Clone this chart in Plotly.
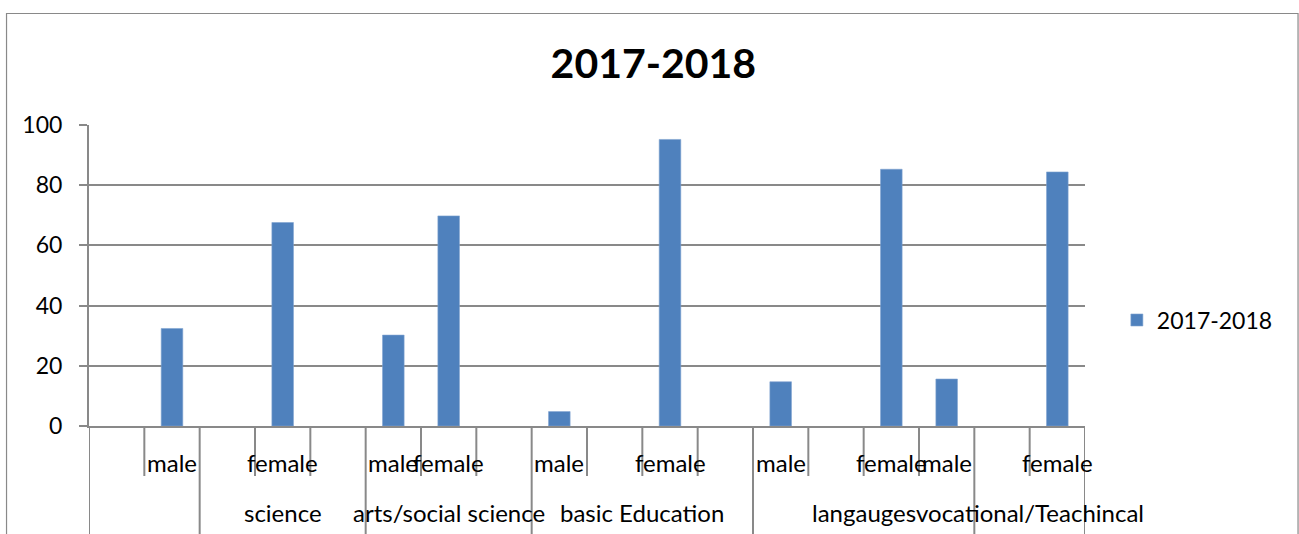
import plotly.graph_objects as go

# ---- data ----
outer_labels = ["", "",
                "science", "science", "science",
                "arts/social science", "arts/social science", "arts/social science",
                "basic Education", "basic Education", "basic Education", "basic Education",
                "langauges", "langauges", "langauges", "langauges",
                "vocational/Teachincal", "vocational/Teachincal"]
inner_labels = ["", "male",
                "", "female", "",
                "male", "female", "",
                "male", "", "female", "",
                "male", "", "female", "male",
                "", "female"]
values_2017_2018 = [None, 32.4,
                    None, 67.6, None,
                    30.2, 69.8, None,
                    4.8, None, 95.2, None,
                    14.7, None, 85.3, 15.6,
                    None, 84.4]
series_name = "2017-2018"
y_ticks = [0, 20, 40, 60, 80, 100]

FONT = "Lato"
GRAY = "#898989"
BLUE = "#4F81BD"

n = len(inner_labels)
idx = list(range(n))

fig = go.Figure()
fig.add_trace(go.Bar(
    x=idx, y=values_2017_2018, name=series_name,
    marker=dict(color=BLUE, line=dict(color="#7FA3D0", width=0.6)),
    width=0.39, showlegend=True,
))

shapes = []
# tick marks at each category boundary; long dividers at group boundaries
for b in range(n + 1):
    is_group = b == 0 or b == n or outer_labels[b - 1] != outer_labels[b]
    shapes.append(dict(
        type="line", xref="x", yref="paper", ysizemode="pixel", yanchor=0,
        x0=b - 0.5, x1=b - 0.5, y0=0, y1=-140 if is_group else -50,
        line=dict(color=GRAY, width=2), layer="above",
    ))
# outer chart border
shapes.append(dict(type="rect", xref="paper", yref="paper",
                   x0=-0.0828, x1=1.2139, y0=-0.6, y1=1.3704,
                   line=dict(color=GRAY, width=1.2), layer="below"))

annotations = []
for i, lab in enumerate(inner_labels):
    if lab.strip():
        annotations.append(dict(x=i, y=0, xref="x", yref="paper", text=lab,
                                showarrow=False, yanchor="middle", yshift=-36,
                                font=dict(family=FONT, size=24, color="black")))
# outer group labels
groups = []
for i, g in enumerate(outer_labels):
    if groups and groups[-1][0] == g:
        groups[-1][2] = i
    else:
        groups.append([g, i, i])
for g, a, b in groups:
    if g.strip():
        annotations.append(dict(x=(a + b) / 2, y=0, xref="x", yref="paper", text=g,
                                showarrow=False, yanchor="middle", yshift=-86,
                                font=dict(family=FONT, size=24, color="black")))

fig.update_layout(
    width=1299, height=534,
    margin=dict(l=89, r=214, t=125, b=108, pad=0),
    paper_bgcolor="white", plot_bgcolor="white",
    font=dict(family=FONT, size=23, color="black"),
    title=dict(text="<b>2017-2018</b>", x=0.503, xanchor="center",
               y=0.880, yanchor="middle",
               font=dict(family=FONT, size=41, color="black")),
    xaxis=dict(range=[-0.5, n - 0.5], showticklabels=False, showgrid=False,
               zeroline=False, showline=True, linecolor=GRAY, linewidth=2,
               ticks="", fixedrange=True),
    yaxis=dict(range=[0, 100], tickvals=y_ticks, showgrid=True, gridcolor=GRAY,
               gridwidth=2, zeroline=False, showline=True, linecolor=GRAY,
               linewidth=2, ticks="outside", ticklen=8, tickwidth=2,
               tickcolor=GRAY, ticklabelstandoff=12,
               tickfont=dict(family=FONT, size=23, color="black")),
    legend=dict(x=1.032, y=0.352, xanchor="left", yanchor="middle",
                font=dict(family=FONT, size=23, color="black"),
                bgcolor="rgba(0,0,0,0)"),
    shapes=shapes, annotations=annotations,
    bargap=0.61,
)

fig.write_html("out.html")
